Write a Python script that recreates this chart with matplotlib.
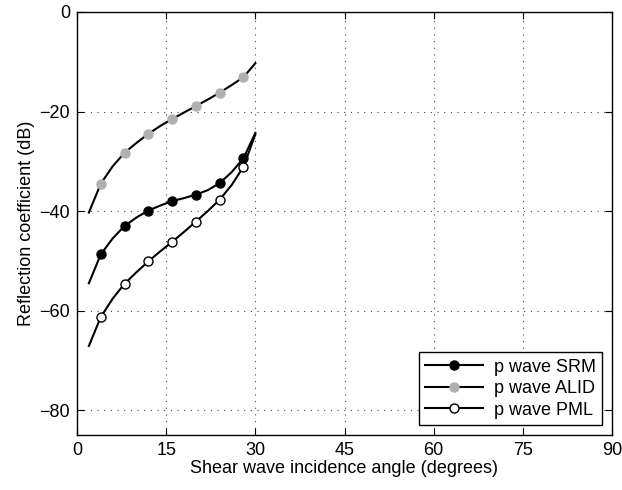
import matplotlib
matplotlib.use("Agg")
import matplotlib.pyplot as plt

angles = [2, 4, 6, 8, 10, 12, 14, 16, 18, 20, 22, 24, 26, 28, 30]
srm = [-54.5, -48.7, -45.5, -43.0, -41.3, -39.9, -38.9, -38.0, -37.4, -36.7, -35.8, -34.4, -32.2, -29.4, -24.3]
alid = [-40.3, -34.5, -31.0, -28.3, -26.3, -24.5, -22.9, -21.5, -20.2, -18.9, -17.6, -16.2, -14.7, -13.1, -10.3]
pml = [-67.1, -61.3, -57.6, -54.6, -52.3, -50.1, -48.1, -46.2, -44.2, -42.1, -40.0, -37.7, -34.8, -31.1, -24.6]
marker_every = slice(1, 14, 2)  # markers at 4, 8, ..., 28 degrees

labels = ["p wave SRM", "p wave ALID", "p wave PML"]
xticks = [0, 15, 30, 45, 60, 75, 90]
yticks = [-80, -60, -40, -20, 0]

plt.rcParams['font.family'] = ['Liberation Sans', 'DejaVu Sans']

fig = plt.figure(figsize=(6.22, 4.90), dpi=100)
ax = fig.add_axes([77/622, 1 - 435/490, (612-77)/622, (435-12)/490])

grey = '#b0b0b0'
ax.plot(angles, srm, color='black', lw=1.5, marker='o', markevery=marker_every,
        markersize=6.5, markerfacecolor='black', markeredgecolor='black', label=labels[0])
ax.plot(angles, alid, color='black', lw=1.5, marker='o', markevery=marker_every,
        markersize=6.5, markerfacecolor=grey, markeredgecolor=grey, label=labels[1])
ax.plot(angles, pml, color='black', lw=1.5, marker='o', markevery=marker_every,
        markersize=6.5, markerfacecolor='white', markeredgecolor='black', label=labels[2])

ax.set_xlim(0, 90)
ax.set_ylim(-85, 0)
ax.set_xticks(xticks)
ax.set_yticks(yticks)
ax.set_yticklabels(['\u221280', '\u221260', '\u221240', '\u221220', '0'])
ax.grid(True, linestyle=(0, (1, 5)), color='#444444', linewidth=0.8)
ax.tick_params(direction='in', top=True, right=True, labelsize=13, length=5, pad=5)
for s in ax.spines.values():
    s.set_linewidth(1.0)
ax.set_xlabel('Shear wave incidence angle (degrees)', fontsize=13, labelpad=1)
ax.set_ylabel('Reflection coefficient (dB)', fontsize=13, labelpad=3)

leg = ax.legend(loc='lower right', fontsize=13, frameon=True, fancybox=False,
                edgecolor='black', framealpha=1, borderpad=0.35, handlelength=3.2,
                handletextpad=0.6, labelspacing=0.25, borderaxespad=0.55)
leg.get_frame().set_linewidth(1.0)

fig.savefig('out.png', dpi=100)
